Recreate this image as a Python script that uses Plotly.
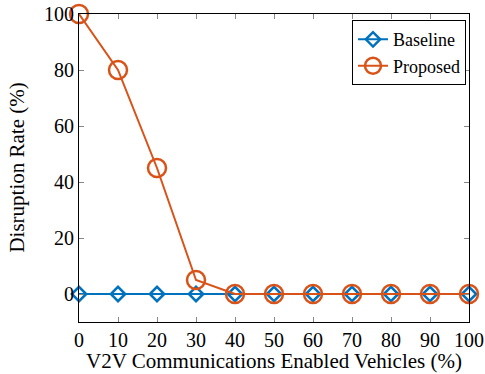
import plotly.graph_objects as go

x_vals = [0, 10, 20, 30, 40, 50, 60, 70, 80, 90, 100]
baseline = [0, 0, 0, 0, 0, 0, 0, 0, 0, 0, 0]
proposed = [100, 80, 45, 5, 0, 0, 0, 0, 0, 0, 0]
x_ticks = [0, 10, 20, 30, 40, 50, 60, 70, 80, 90, 100]
y_ticks = [0, 20, 40, 60, 80, 100]
x_title = "V2V Communications Enabled Vehicles (%)"
y_title = "Disruption Rate (%)"

BLUE = "#0072BD"
ORANGE = "#D95319"
FONT = "Liberation Serif, Times New Roman, serif"

fig = go.Figure()
fig.add_trace(go.Scatter(
    x=x_vals, y=baseline, name="Baseline", mode="lines+markers",
    line=dict(color=BLUE, width=2),
    marker=dict(symbol="diamond-open", size=11, color=BLUE, line=dict(width=2.5, color=BLUE)),
    cliponaxis=False,
))
fig.add_trace(go.Scatter(
    x=x_vals, y=proposed, name="Proposed", mode="lines+markers",
    line=dict(color=ORANGE, width=2),
    marker=dict(symbol="circle-open", size=18, color=ORANGE, line=dict(width=2.5, color=ORANGE)),
    cliponaxis=False,
))

axis_common = dict(
    showgrid=False, zeroline=False, showline=True, linecolor="black", linewidth=1,
    mirror="ticks", ticks="inside", ticklen=5, tickcolor="#888888", tickwidth=1,
    tickfont=dict(family=FONT, size=20, color="black"), automargin=False,
    ticklabeloverflow="allow",
)
fig.update_xaxes(range=[0, 100], tickvals=x_ticks, **axis_common)
fig.update_yaxes(range=[-10, 100], tickvals=y_ticks, **axis_common)

fig.add_annotation(text=x_title, xref="paper", yref="paper", x=0.5, y=-0.128,
                   xanchor="center", yanchor="middle", showarrow=False,
                   font=dict(family=FONT, size=21, color="black"))
fig.add_annotation(text=y_title, xref="paper", yref="paper", x=-0.16, y=0.5,
                   xanchor="center", yanchor="middle", showarrow=False, textangle=-90,
                   font=dict(family=FONT, size=21, color="black"))

fig.update_layout(
    width=485, height=374,
    margin=dict(l=79, r=16, t=14, b=52, autoexpand=False),
    plot_bgcolor="white", paper_bgcolor="white",
    font=dict(family=FONT, size=20, color="black"),
    legend=dict(x=0.7, y=0.98, xanchor="left", yanchor="top",
                bgcolor="white", bordercolor="black", borderwidth=1,
                font=dict(family=FONT, size=18, color="black"),
                tracegroupgap=0, itemwidth=30),
    showlegend=True,
)

# remove the browser's default 8px body margin so the figure fills the window exactly
fig.write_html("out.html", config={"displayModeBar": False},
               post_script="document.body.style.margin='0';")
